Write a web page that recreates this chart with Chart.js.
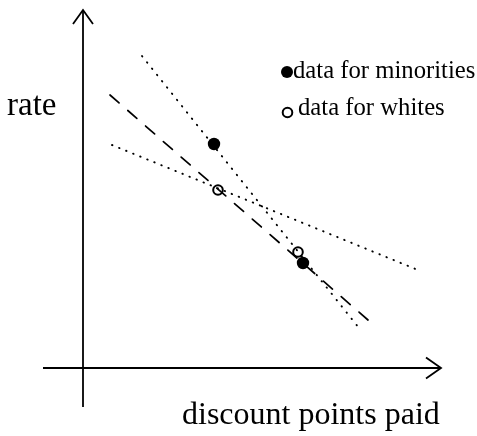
<!DOCTYPE html>
<html>
<head>
<meta charset="utf-8">
<script src="https://cdn.jsdelivr.net/npm/chart.js@4.4.1/dist/chart.umd.min.js"></script>
<style>
  html, body { margin: 0; padding: 0; background: #fff; }
  #wrap { width: 477px; height: 436px; }
</style>
</head>
<body>
<div id="wrap"><canvas id="grafico"></canvas></div>
<script>
// Datos del esquema (unidades arbitrarias: origen en el cruce de ejes)
const puntosMinorias = [{ x: 13.1, y: 22.4 }, { x: 22.0, y: 10.5 }];
const puntosBlancos = [{ x: 13.5, y: 17.8 }, { x: 21.5, y: 11.6 }];
const rectaComun = [{ x: 2.7, y: 27.3 }, { x: 28.5, y: 4.8 }];
const rectaMinorias = [{ x: 5.9, y: 31.2 }, { x: 27.6, y: 4.0 }];
const rectaBlancos = [{ x: 2.9, y: 22.3 }, { x: 33.5, y: 9.8 }];

// Extensión de los ejes dibujados
const ejeX = [-4.0, 35.8];
const ejeY = [-3.9, 35.8];
const rangoX = [-8.3, 39.4];
const rangoY = [-6.8, 36.8];

const etiquetaX = 'discount points paid';
const etiquetaY = 'rate';
const leyenda = ['data for minorities', 'data for whites'];

const FUENTE = '"Liberation Serif", "Times New Roman", serif';

/**
 * Dibuja ejes con flecha, rótulos y leyenda sobre el área del gráfico.
 */
const ejesPlugin = {
  id: 'ejes',
  beforeDatasetsDraw(chart) {
    const { ctx, scales: { x, y } } = chart;
    const x0 = x.getPixelForValue(0);
    const y0 = y.getPixelForValue(0);
    ctx.save();
    ctx.strokeStyle = '#000';
    ctx.lineWidth = 1.8;
    ctx.lineCap = 'butt';
    // eje horizontal
    const xa = x.getPixelForValue(ejeX[0]);
    const xb = x.getPixelForValue(ejeX[1]);
    ctx.beginPath();
    ctx.moveTo(xa, y0);
    ctx.lineTo(xb, y0);
    ctx.stroke();
    ctx.beginPath();
    ctx.moveTo(xb - 15, y0 - 10.5);
    ctx.lineTo(xb, y0);
    ctx.lineTo(xb - 15, y0 + 10.5);
    ctx.stroke();
    // eje vertical
    const ya = y.getPixelForValue(ejeY[0]);
    const yb = y.getPixelForValue(ejeY[1]);
    ctx.beginPath();
    ctx.moveTo(x0, ya);
    ctx.lineTo(x0, yb);
    ctx.stroke();
    ctx.beginPath();
    ctx.moveTo(x0 - 10, yb + 14);
    ctx.lineTo(x0, yb);
    ctx.lineTo(x0 + 10, yb + 14);
    ctx.stroke();
    ctx.restore();
  },
  afterDraw(chart) {
    const { ctx } = chart;
    ctx.save();
    ctx.fillStyle = '#000';
    ctx.textAlign = 'left';
    ctx.textBaseline = 'alphabetic';
    ctx.font = '33px ' + FUENTE;
    ctx.fillText(etiquetaY, 7, 115);
    ctx.font = '32px ' + FUENTE;
    ctx.fillText(etiquetaX, 182, 424);
    // leyenda
    ctx.font = '24.7px ' + FUENTE;
    ctx.fillText(leyenda[0], 293, 78);
    ctx.fillText(leyenda[1], 298, 115);
    ctx.beginPath();
    ctx.arc(287, 72, 6, 0, Math.PI * 2);
    ctx.fill();
    ctx.beginPath();
    ctx.lineWidth = 2;
    ctx.strokeStyle = '#000';
    ctx.arc(287.5, 112.5, 4.8, 0, Math.PI * 2);
    ctx.stroke();
    ctx.restore();
  }
};

const linea = (data, dash, width) => ({
  type: 'line',
  data,
  showLine: true,
  borderColor: '#000',
  borderWidth: width,
  borderDash: dash,
  borderCapStyle: 'round',
  pointRadius: 0,
  fill: false,
  tension: 0
});

new Chart(document.getElementById('grafico'), {
  type: 'scatter',
  data: {
    datasets: [
      {
        data: puntosMinorias,
        pointRadius: 6.2,
        pointBackgroundColor: '#000',
        pointBorderColor: '#000',
        pointBorderWidth: 0,
        order: 0
      },
      {
        data: puntosBlancos,
        pointRadius: 4.8,
        pointBackgroundColor: 'rgba(0,0,0,0)',
        pointBorderColor: '#000',
        pointBorderWidth: 2,
        order: 0
      },
      { ...linea(rectaComun, [12, 11.6], 1.7), order: 1 },
      { ...linea(rectaMinorias, [0.5, 7.5], 1.9), order: 1 },
      { ...linea(rectaBlancos, [0.5, 7.1], 1.9), order: 1 }
    ]
  },
  options: {
    responsive: true,
    maintainAspectRatio: false,
    animation: false,
    layout: { padding: 0, autoPadding: false },
    plugins: { legend: { display: false }, tooltip: { enabled: false } },
    scales: {
      x: { type: 'linear', display: false, min: rangoX[0], max: rangoX[1] },
      y: { type: 'linear', display: false, min: rangoY[0], max: rangoY[1] }
    }
  },
  plugins: [ejesPlugin]
});
</script>
</body>
</html>
